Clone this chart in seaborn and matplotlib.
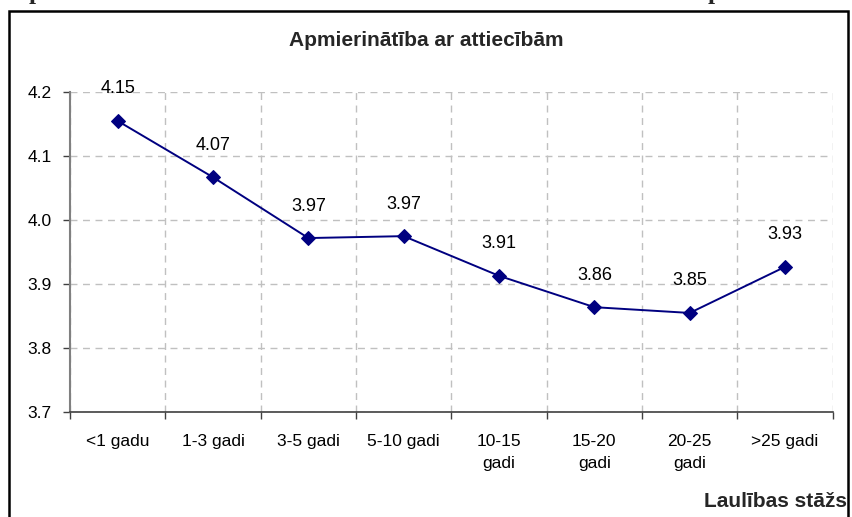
import matplotlib
matplotlib.use("Agg")
import matplotlib.pyplot as plt
import seaborn as sns
import numpy as np
import pandas as pd
from matplotlib.patches import Rectangle

categories = ["<1 gadu", "1-3 gadi", "3-5 gadi", "5-10 gadi",
              "10-15\ngadi", "15-20\ngadi", "20-25\ngadi", ">25 gadi"]
values = [4.154, 4.066, 3.971, 3.974, 3.912, 3.863, 3.854, 3.926]
y_ticks = [3.7, 3.8, 3.9, 4.0, 4.1, 4.2]
title = "Apmierinātība ar attiecībām"
xlabel = "Laulības stāžs"

sns.set_theme(style="white")
plt.rcParams['font.family'] = ['Liberation Sans', 'DejaVu Sans']

df = pd.DataFrame({"cat": categories, "val": values})

W, H = 852, 517
fig = plt.figure(figsize=(W / 100, H / 100), dpi=100)
ax = fig.add_axes([70 / W, (H - 411.5) / H, 762.7 / W, 320 / H])

navy = "#000080"
sns.lineplot(data=df, x="cat", y="val", sort=False, ax=ax, color=navy,
             linewidth=1.4, marker="D", markersize=7, markeredgecolor=navy,
             markerfacecolor=navy)

n = len(categories)
ax.set_xlim(-0.5, n - 0.5)
ax.set_ylim(3.7, 4.2)
ax.set_yticks(y_ticks)
ax.set_yticklabels([f"{t:.1f}" for t in y_ticks])

ax.set_xticks(np.arange(-0.5, n), minor=False)
ax.set_xticklabels([""] * (n + 1))
ax.set_xticks(np.arange(n), minor=True)
ax.set_xticklabels(categories, minor=True, linespacing=1.6, va="top")

ax.tick_params(axis="x", which="major", direction="out", length=5, width=1,
               color="#404040", bottom=True)
ax.tick_params(axis="x", which="minor", length=0, pad=16, labelsize=12.5,
               labelcolor="black")
ax.tick_params(axis="y", which="major", direction="out", length=5, width=1,
               color="#404040", left=True, pad=8, labelsize=12.5,
               labelcolor="black")

ax.grid(True, which="major", axis="both", color="#c0c0c0", linestyle=(0, (5, 4)),
        linewidth=1)
ax.set_axisbelow(True)

for s in ["top", "right"]:
    ax.spines[s].set_visible(False)
ax.spines["left"].set_color("#808080")
ax.spines["left"].set_linewidth(1.5)
ax.spines["bottom"].set_color("#404040")
ax.spines["bottom"].set_linewidth(1.2)

ax.set_xlabel("")
ax.set_ylabel("")

for i, v in enumerate(values):
    ax.annotate(f"{v:.2f}", (i, v), xytext=(0, 23), textcoords="offset points",
                ha="center", va="center", fontsize=13, color="black",
                annotation_clip=False)

fig.text(425.8 / W, 1 - 41 / H, title, ha="center", va="center",
         fontsize=15, fontweight="bold")
fig.text(847 / W, 1 - 507 / H, xlabel, ha="right", va="baseline",
         fontsize=15, fontweight="bold")

# outer chart frame
fig.patches.append(Rectangle((8.5 / W, -0.1), (848 - 8.5) / W, (H - 11) / H + 0.1,
                             transform=fig.transFigure, fill=False,
                             edgecolor="black", linewidth=1.8, zorder=10))

# cropped serif text fragments at top (partially visible in the reference)
for xp in [36, 715]:
    fig.text(xp / W, 1 + 1.5 / H, "p", ha="center", va="baseline",
             fontsize=18, fontweight="bold", family=["Liberation Serif", "DejaVu Serif"])

fig.savefig("out.png", dpi=100, facecolor="white")
